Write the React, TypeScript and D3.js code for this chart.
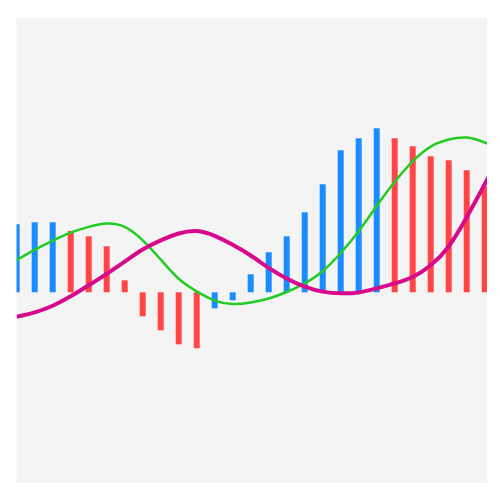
import React from "react";
import * as d3 from "d3";

// MACD-style histogram values (one per period)
const histogram = [3.4, 3.5, 3.5, 3.07, 2.8, 2.3, 0.6, -1.2, -1.9, -2.6, -2.8, -0.8, -0.4, 0.9, 2.0, 2.8, 4.0, 5.4, 7.1, 7.7, 8.2, 7.7, 7.3, 6.8, 6.6, 6.1, 5.3];
const histogramRising = [true, true, true, false, false, false, false, false, false, false, false, true, true, true, true, true, true, true, true, true, true, false, false, false, false, false, false];
// signal lines sampled at each period (last point continues past the edge)
const fastLine = [1.615, 2.12, 2.58, 2.98, 3.27, 3.44, 3.27, 2.6, 1.64, 0.675, 0.045, -0.415, -0.585, -0.51, -0.31, 0.015, 0.45, 1.055, 1.965, 3.055, 4.315, 5.525, 6.55, 7.285, 7.64, 7.735, 7.49, 7.115];
const slowLine = [-1.22, -1.0, -0.67, -0.2, 0.35, 0.925, 1.535, 2.14, 2.6, 2.94, 3.065, 2.825, 2.375, 1.84, 1.225, 0.695, 0.285, 0.035, -0.05, -0.005, 0.2, 0.445, 0.765, 1.35, 2.29, 3.75, 5.4, 7.115];

const W = 500;
const H = 500;
const panel = { x: 16.5, y: 18, w: 470.5, h: 465 };

export default function App() {
  const x = d3.scaleLinear().domain([0, 26]).range([16.7, 484.7]);
  const y = d3.scaleLinear().domain([-10, 10]).range([492.3, 92.3]);
  const barW = 6;

  const line = d3
    .line<number>()
    .x((_, i) => x(i))
    .y((d) => y(d))
    .curve(d3.curveNatural);

  return (
    <svg
      width={W}
      height={H}
      style={{ position: "absolute", left: 0, top: 0 }}
    >
      <defs>
        <clipPath id="panelClip">
          <rect x={panel.x} y={panel.y} width={panel.w} height={panel.h} />
        </clipPath>
      </defs>
      <rect x={0} y={0} width={W} height={H} fill="#ffffff" />
      <rect x={panel.x} y={panel.y} width={panel.w} height={panel.h} fill="#f4f4f4" />
      <g clipPath="url(#panelClip)">
        {histogram.map((v, i) => (
          <rect
            key={i}
            x={x(i) - barW / 2}
            y={Math.min(y(v), y(0))}
            width={barW}
            height={Math.abs(y(v) - y(0))}
            fill={histogramRising[i] ? "#1a8cff" : "#ff4545"}
          />
        ))}
        <path d={line(fastLine) || ""} fill="none" stroke="#22cc22" strokeWidth={2.5} />
        <path d={line(slowLine) || ""} fill="none" stroke="#d60a8a" strokeWidth={4} />
      </g>
    </svg>
  );
}
